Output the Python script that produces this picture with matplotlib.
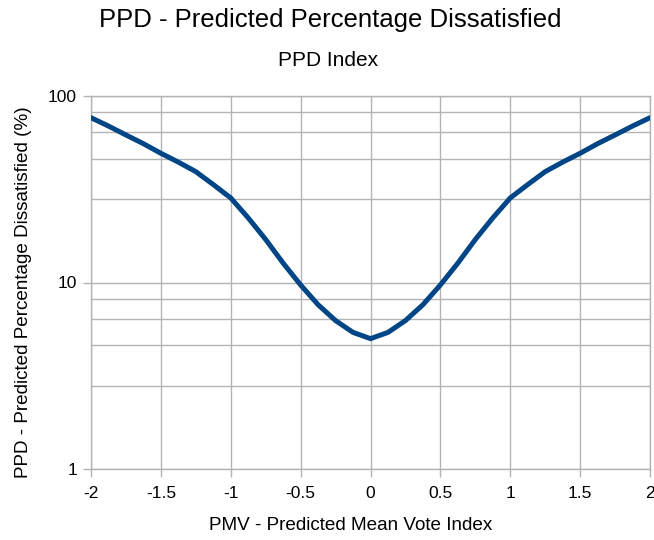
import matplotlib
matplotlib.use("Agg")
import matplotlib.pyplot as plt
from matplotlib.ticker import FixedLocator, NullFormatter

plt.rcParams['font.family'] = ['Liberation Sans', 'DejaVu Sans']

pmv = [-2, -1.875, -1.75, -1.625, -1.5, -1.375, -1.25, -1.125, -1, -0.875, -0.75, -0.625,
       -0.5, -0.375, -0.25, -0.125, 0, 0.125, 0.25, 0.375, 0.5, 0.625, 0.75, 0.875,
       1, 1.125, 1.25, 1.375, 1.5, 1.625, 1.75, 1.875, 2]
ppd = [76.5, 69.0, 61.8, 55.5, 49.3, 44.2, 39.3, 33.5, 28.4, 22.2, 17.0, 12.7,
       9.7, 7.6, 6.25, 5.4, 5.0, 5.4, 6.25, 7.6, 9.7, 12.7, 17.0, 22.2,
       28.4, 33.5, 39.3, 44.2, 49.3, 55.5, 61.8, 69.0, 76.5]

x_ticks = [-2, -1.5, -1, -0.5, 0, 0.5, 1, 1.5, 2]
x_tick_labels = ['-2', '-1.5', '-1', '-0.5', '0', '0.5', '1', '1.5', '2']
y_ticks = [1, 10, 100]
y_tick_labels = ['1', '10', '100']
y_minor = [2.8, 4.6, 6.4, 8.2, 28, 46, 64, 82]

title = "PPD - Predicted Percentage Dissatisfied"
subtitle = "PPD Index"
xlabel = "PMV - Predicted Mean Vote Index"
ylabel = "PPD - Predicted Percentage Dissatisfied (%)"

grid_c = '#b3b3b3'
fig = plt.figure(figsize=(6.54, 5.40), dpi=100)
ax = fig.add_axes([91/654, 1-469/540, (650-91)/654, (469-96)/540])

ax.plot(pmv, ppd, color='#004586', lw=3.6, solid_capstyle='round',
        solid_joinstyle='round', zorder=3)
ax.set_yscale('log')
ax.set_xlim(-2, 2)
ax.set_ylim(1, 100)

ax.xaxis.set_major_locator(FixedLocator(x_ticks))
ax.set_xticklabels(x_tick_labels)
ax.yaxis.set_major_locator(FixedLocator(y_ticks))
ax.set_yticklabels(y_tick_labels)
ax.yaxis.set_minor_locator(FixedLocator(y_minor))
ax.yaxis.set_minor_formatter(NullFormatter())

ax.grid(True, which='major', color=grid_c, lw=1.0)
ax.grid(True, which='minor', axis='y', color=grid_c, lw=1.0)
ax.tick_params(axis='both', which='major', length=6, width=1.0, color=grid_c,
               labelsize=12.5, labelcolor='#000000', pad=4)
ax.tick_params(axis='x', which='major', pad=6)
ax.tick_params(axis='y', which='minor', length=0)
for s in ax.spines.values():
    s.set_color(grid_c)
    s.set_linewidth(1.0)

ax.set_xlabel(xlabel, fontsize=13.6)
ax.set_ylabel(ylabel, fontsize=13.6)
ax.xaxis.set_label_coords((351-91)/(650-91), -(525-469)/(469-96))
ax.yaxis.set_label_coords(-(91-24)/(650-91), (469-292)/(469-96))
ax.xaxis.label.set_va('center')
ax.yaxis.label.set_va('center')

fig.text(330/654, 1-20/540, title, ha='center', va='center', fontsize=18.5)
fig.text(328/654, 1-60/540, subtitle, ha='center', va='center', fontsize=15)

fig.savefig('out.png', dpi=100)
